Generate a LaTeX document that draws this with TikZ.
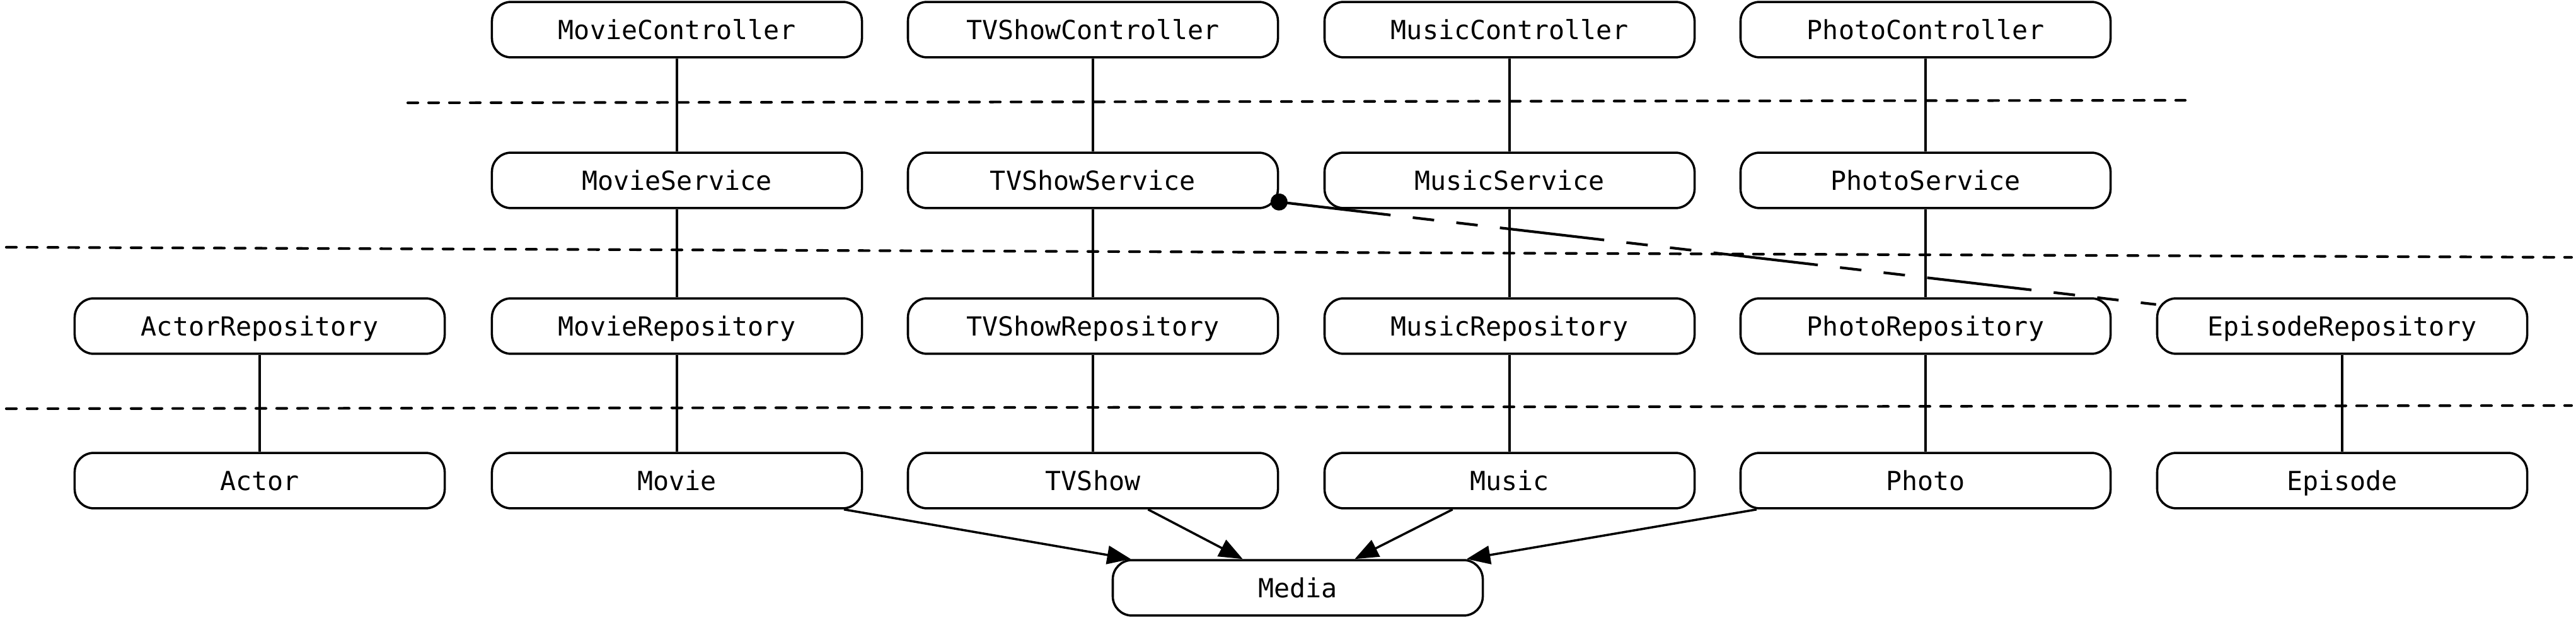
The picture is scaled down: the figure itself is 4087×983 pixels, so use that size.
\documentclass[tikz,border=0pt]{standalone}
\usepackage{fontspec}
\setmonofont{DejaVu Sans Mono}
\usetikzlibrary{arrows.meta}

\begin{document}
\begin{tikzpicture}[
        x=0.24pt, y=-0.24pt,
        block/.style={draw, line width=0.85pt, rounded corners=7.3pt, minimum width=140.9pt, minimum height=21.1pt, inner sep=0pt, font=\ttfamily\fontsize{10pt}{12pt}\selectfont, text height=7.29pt, text depth=0pt},
        link/.style={line width=0.75pt},
        inherits/.style={line width=0.85pt, -{Triangle[length=9pt, width=7pt]}},
        tierline/.style={line width=1pt, line cap=round, dash pattern=on 3.84pt off 4.08pt},
        depends/.style={line width=1pt, {Circle[length=6.5pt]}-, shorten <=-3.25pt, dash pattern=on 40pt off 8.5pt on 8.2pt off 8.5pt on 8.2pt off 8.5pt}
    ]
    \useasboundingbox (0, 0) rectangle (4087, 983);

    % controllers
    \node[block] (movieCtl) at (1074, 47)  {MovieController};
    \node[block] (tvCtl)    at (1734, 47)  {TVShowController};
    \node[block] (musicCtl) at (2395, 47)  {MusicController};
    \node[block] (photoCtl) at (3055, 47)  {PhotoController};

    % services
    \node[block] (movieSvc) at (1074, 286) {MovieService};
    \node[block] (tvSvc)    at (1734, 286) {TVShowService};
    \node[block] (musicSvc) at (2395, 286) {MusicService};
    \node[block] (photoSvc) at (3055, 286) {PhotoService};

    % repositories
    \node[block] (actorRepo)   at (412, 517)  {ActorRepository};
    \node[block] (movieRepo)   at (1074, 517) {MovieRepository};
    \node[block] (tvRepo)      at (1734, 517) {TVShowRepository};
    \node[block] (musicRepo)   at (2395, 517) {MusicRepository};
    \node[block] (photoRepo)   at (3055, 517) {PhotoRepository};
    \node[block] (episodeRepo) at (3716, 517) {EpisodeRepository};

    % models
    \node[block] (actor)   at (412, 762)  {Actor};
    \node[block] (movie)   at (1074, 762) {Movie};
    \node[block] (tv)      at (1734, 762) {TVShow};
    \node[block] (music)   at (2395, 762) {Music};
    \node[block] (photo)   at (3055, 762) {Photo};
    \node[block] (episode) at (3716, 762) {Episode};
    \node[block] (media)   at (2059, 932) {Media};

    % tier separators
    \draw[tierline] (647, 163) -- (3467, 159);
    \draw[tierline] (10, 392) -- (4080, 408);
    \draw[tierline] (10, 648) -- (4080, 643);

    \draw[link] (movieCtl)--(movieSvc)--(movieRepo)--(movie);
    \draw[link] (tvCtl)--(tvSvc)--(tvRepo)--(tv);
    \draw[link] (musicCtl)--(musicSvc)--(musicRepo)--(music);
    \draw[link] (photoCtl)--(photoSvc)--(photoRepo)--(photo);
    \draw[link] (actorRepo)--(actor);
    \draw[link] (episodeRepo)--(episode);

    \draw[depends] (tvSvc) -- (episodeRepo);

    \draw[inherits] (movie) -- (media);
    \draw[inherits] (tv) -- (media);
    \draw[inherits] (music) -- (media);
    \draw[inherits] (photo) -- (media);
\end{tikzpicture}
\end{document}
